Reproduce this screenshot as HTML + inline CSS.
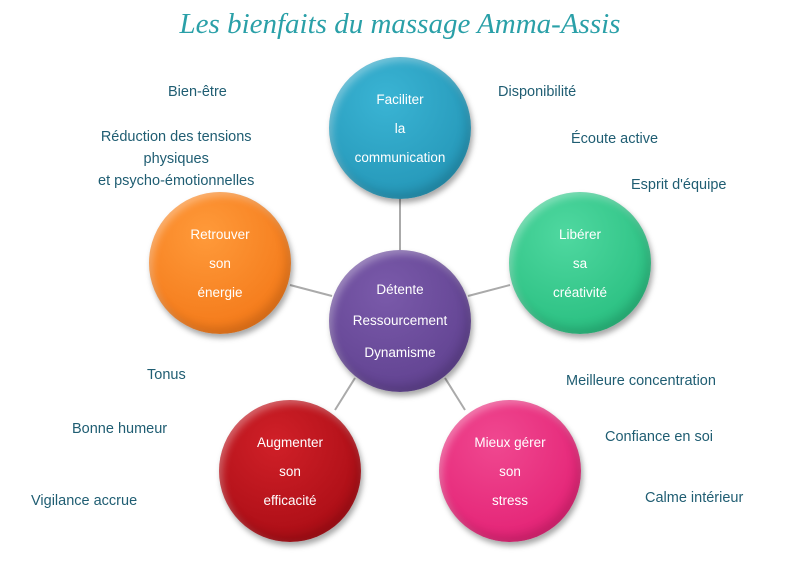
<!DOCTYPE html>
<html><head><meta charset="utf-8"><style>
body{margin:0;width:800px;height:575px;background:#fff;overflow:hidden;position:relative;font-family:"Liberation Sans","DejaVu Sans",sans-serif}
.t{position:absolute;color:#1f5d72;font-size:14.5px;white-space:nowrap}
.c{position:absolute;width:142px;height:142px;border-radius:50%;color:#fff;font-size:13.5px;text-align:center;box-shadow:2px 4px 6px rgba(0,0,0,.35), inset -4px -6px 10px rgba(0,0,0,.15), inset 3px 4px 8px rgba(255,255,255,.35);display:flex;flex-direction:column;justify-content:center;line-height:29px}
</style></head><body>
<div style="position:absolute;left:0;width:800px;top:8px;text-align:center;font-family:'Liberation Serif',serif;font-style:italic;font-size:29px;color:#2aa0a8">Les bienfaits du massage Amma-Assis</div>
<svg width="800" height="575" style="position:absolute;left:0;top:0">
<g stroke="#aaa" stroke-width="2">
<line x1="400" y1="198" x2="400" y2="250"/>
<line x1="290" y1="285" x2="332" y2="296"/>
<line x1="510" y1="285" x2="468" y2="296"/>
<line x1="355" y1="378" x2="335" y2="410"/>
<line x1="445" y1="378" x2="465" y2="410"/>
</g></svg>
<div class="c" style="left:329px;top:57px;background:radial-gradient(circle at 40% 30%,#3ab4d4,#1f8fb0)"><div>Faciliter</div><div>la</div><div>communication</div></div>
<div class="c" style="left:329px;top:250px;background:radial-gradient(circle at 40% 30%,#7a5aaa,#5a3c8a)"><div>Détente</div><div style="line-height:34px">Ressourcement</div><div>Dynamisme</div></div>
<div class="c" style="left:149px;top:192px;background:radial-gradient(circle at 40% 30%,#ff9a3a,#f07010)"><div>Retrouver</div><div>son</div><div>énergie</div></div>
<div class="c" style="left:509px;top:192px;background:radial-gradient(circle at 40% 30%,#4fd8a0,#1fb878)"><div>Libérer</div><div>sa</div><div>créativité</div></div>
<div class="c" style="left:219px;top:400px;background:radial-gradient(circle at 40% 30%,#d02028,#a00810)"><div>Augmenter</div><div>son</div><div>efficacité</div></div>
<div class="c" style="left:439px;top:400px;background:radial-gradient(circle at 40% 30%,#f04890,#e0186e)"><div>Mieux gérer</div><div>son</div><div>stress</div></div>
<div class="t" style="left:168px;top:84px">Bien-être</div>
<div class="t" style="left:98px;top:126px;text-align:center;line-height:22px">Réduction des tensions<br>physiques<br>et psycho-émotionnelles</div>
<div class="t" style="left:498px;top:84px">Disponibilité</div>
<div class="t" style="left:571px;top:131px">Écoute active</div>
<div class="t" style="left:631px;top:177px">Esprit d'équipe</div>
<div class="t" style="left:147px;top:367px">Tonus</div>
<div class="t" style="left:72px;top:421px">Bonne humeur</div>
<div class="t" style="left:31px;top:493px">Vigilance accrue</div>
<div class="t" style="left:566px;top:373px">Meilleure concentration</div>
<div class="t" style="left:605px;top:429px">Confiance en soi</div>
<div class="t" style="left:645px;top:490px">Calme intérieur</div>
</body></html>
